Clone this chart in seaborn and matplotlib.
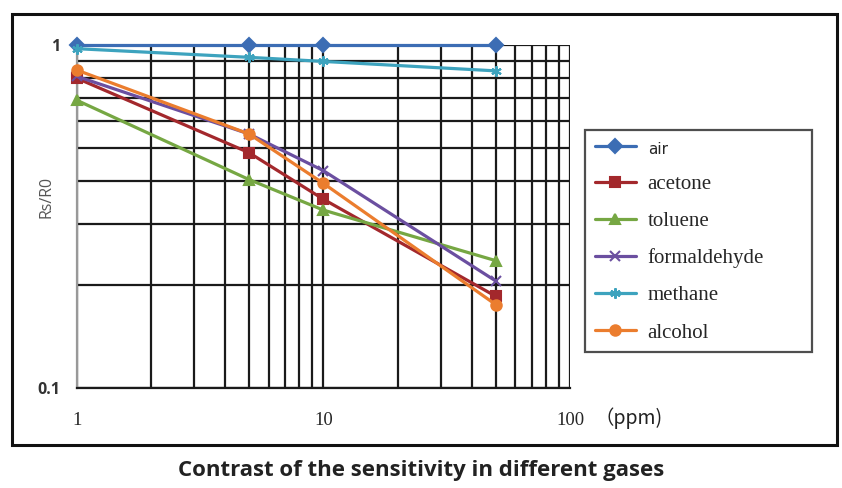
import numpy as np
import pandas as pd
import matplotlib
matplotlib.use("Agg")
import matplotlib.pyplot as plt
import seaborn as sns
from matplotlib.patches import Rectangle
from matplotlib.ticker import LogLocator, NullFormatter, FixedLocator, FixedFormatter

# Gas concentration (ppm) and Rs/R0
ppm = [1, 5, 10, 50]
air = [1.0, 1.0, 1.0, 1.0]
acetone = [0.80, 0.485, 0.355, 0.185]
toluene = [0.69, 0.405, 0.33, 0.235]
formaldehyde = [0.81, 0.55, 0.43, 0.205]
methane = [0.975, 0.92, 0.895, 0.84]
alcohol = [0.845, 0.55, 0.395, 0.175]

gases = ["air", "acetone", "toluene", "formaldehyde", "methane", "alcohol"]
series = [air, acetone, toluene, formaldehyde, methane, alcohol]
colors = ["#3C6DB4", "#A3282C", "#76A743", "#6B4FA0", "#3DA3BE", "#EB7D2E"]
markers = ["D", "s", "^", "x", (6, 2, 0), "o"]

sns.set_theme(style="white")
plt.rcParams["font.family"] = ["DejaVu Sans"]

fig = plt.figure(figsize=(8.42, 4.88), dpi=100)
ax = fig.add_axes([0.091, 0.205, 0.586, 0.703])

# one lineplot per gas (filled and line markers can't share one style map)
for g, vals, c, m in zip(gases, series, colors, markers):
    d = pd.DataFrame({"ppm": ppm, "Rs/R0": vals})
    sns.lineplot(data=d, x="ppm", y="Rs/R0", color=c, marker=m, label=g,
                 linewidth=2.3, markersize=7.5, markeredgewidth=1.5,
                 markeredgecolor=c, ax=ax, clip_on=False, zorder=3)

ax.set_xscale("log")
ax.set_yscale("log")
ax.set_xlim(1, 100)
ax.set_ylim(0.1, 1)

ax.xaxis.set_major_locator(FixedLocator([1, 10, 100]))
ax.xaxis.set_major_formatter(FixedFormatter(["1", "10", "100"]))
ax.xaxis.set_minor_locator(LogLocator(base=10, subs=np.arange(2, 10)))
ax.xaxis.set_minor_formatter(NullFormatter())
ax.yaxis.set_major_locator(FixedLocator([0.1, 1]))
ax.yaxis.set_major_formatter(FixedFormatter(["0.1", "1"]))
ax.yaxis.set_minor_locator(LogLocator(base=10, subs=np.arange(2, 10)))
ax.yaxis.set_minor_formatter(NullFormatter())

ax.grid(True, which="both", color="#1a1a1a", linewidth=1.6)
for s in ["top", "right"]:
    ax.spines[s].set_visible(False)
ax.spines["left"].set_color("#999999")
ax.spines["left"].set_linewidth(1.6)
ax.spines["bottom"].set_color("#1a1a1a")
ax.spines["bottom"].set_linewidth(1.6)

ax.tick_params(axis="x", which="major", length=0, pad=17)
ax.tick_params(axis="y", which="major", length=6, color="#999999", pad=6)
ax.tick_params(which="minor", length=0)
for t in ax.get_xticklabels():
    t.set_fontfamily("Liberation Serif")
    t.set_fontsize(13.5)
for t in ax.get_yticklabels():
    t.set_fontfamily("Open Sans")
    t.set_fontweight("bold")
    t.set_fontsize(11.5)
    t.set_color("#333333")

ax.set_xlabel("")
ax.set_ylabel("Rs/R0", fontfamily="Open Sans", fontsize=11.5, color="#555555")
ax.yaxis.set_label_coords(-0.045, 0.557)
fig.text(0.706, 0.143, "（ppm)", fontsize=14, color="#222222",
         family=["Noto Sans CJK SC", "DejaVu Sans"], ha="left", va="center")

# legend
handles, labels = ax.get_legend_handles_labels()
ax.get_legend().remove()
leg = fig.legend(handles, labels, loc="upper left",
                 bbox_to_anchor=(0.695, 0.279, 0.269, 0.455), mode="expand",
                 borderaxespad=0, frameon=True, fancybox=False, edgecolor="#222222",
                 prop={"family": "Liberation Serif", "size": 15},
                 handlelength=2.0, labelspacing=0.84, borderpad=0.45,
                 handletextpad=0.55)
leg.get_frame().set_linewidth(1.6)
leg.get_texts()[0].set_family("DejaVu Sans")
leg.get_texts()[0].set_fontsize(11)

# outer frame
fig.patches.append(Rectangle((0.014, 0.088), 0.98, 0.884, transform=fig.transFigure,
                             fill=False, edgecolor="#111111", linewidth=2.2))

fig.text(0.5, 0.035, "Contrast of the sensitivity in different gases",
         ha="center", va="center", fontsize=16, fontweight="bold",
         family="Open Sans", color="#222222")

fig.savefig("out.png", dpi=100)
